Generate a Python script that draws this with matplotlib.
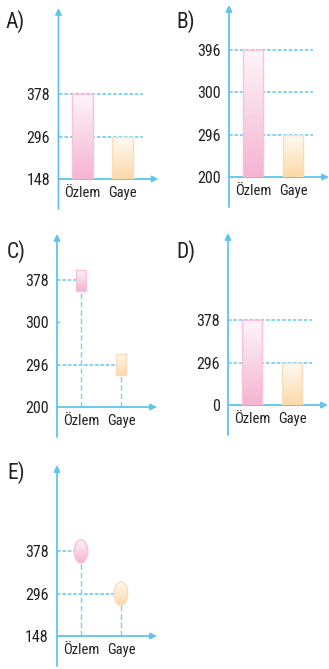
import matplotlib.pyplot as plt
import numpy as np
from matplotlib.patches import Rectangle, Ellipse
from matplotlib.colors import LinearSegmentedColormap

# donnees
names = ['Özlem', 'Gaye']
values = [378, 296]
values_B = [396, 296]
ticks_A = [148, 296, 378]
ticks_B = [200, 296, 300, 396]
ticks_C = [200, 296, 300, 378]
ticks_D = [0, 296, 378]
ticks_E = [148, 296, 378]

W, H = 329, 669
SLOT = 42.3
BLUE = '#5ec5ef'
DASH = '#7dd0f3'
FONT = ['Liberation Sans Narrow', 'Roboto Condensed', 'Liberation Sans', 'DejaVu Sans']
TXT = '#222222'
PINK = ('#fdf5f9', '#f5b4d1', '#f6c4da')
ORANGE = ('#fffbf5', '#fcd9a8', '#fadcb8')

plt.rcParams['font.family'] = FONT
fig = plt.figure(figsize=(W / 100, H / 100), dpi=100)


def panel(x0, base, top, ticks, letter, lx, ly):
    ax = fig.add_axes([x0 / W, 1 - base / H, 100 / W, (base - top) / H])
    ax.set_xlim(-0.6, 1.9)
    ax.set_ylim(0, (base - top) / SLOT)
    for s in ax.spines.values():
        s.set_visible(False)
    ax.set_yticks(range(len(ticks)))
    ax.set_yticklabels([str(t) for t in ticks], fontsize=11.5, color=TXT)
    ax.set_xticks([0, 1])
    ax.set_xticklabels(names, fontsize=10.5, color=TXT)
    ax.tick_params(length=0)
    ax.tick_params(axis='y', pad=6)
    ax.tick_params(axis='x', pad=5)
    arr = dict(arrowstyle='-|>', color=BLUE, lw=1.3, mutation_scale=9, shrinkA=0, shrinkB=0)
    ax.annotate('', xy=(1, 0), xytext=(0, 0), xycoords='axes fraction',
                textcoords='axes fraction', arrowprops=arr)
    ax.annotate('', xy=(0, 1), xytext=(0, -30 / (base - top)), xycoords='axes fraction',
                textcoords='axes fraction', arrowprops=arr, annotation_clip=False)
    fig.text(lx / W, 1 - ly / H, letter, fontsize=15.5, color=TXT, ha='left', va='top')
    return ax


def gradient(ax, patch, cols, box):
    ax.add_patch(patch)
    cmap = LinearSegmentedColormap.from_list('g', [cols[0], cols[1]])
    img = ax.imshow(np.linspace(0, 1, 100).reshape(-1, 1), cmap=cmap, extent=box,
                    aspect='auto', zorder=3, interpolation='bilinear')
    img.set_clip_path(patch)


def bars(ax, ticks, vals):
    lim = ax.get_ylim()
    for i in range(1, len(ticks)):
        ax.plot([-0.6, 1.5], [i, i], color=DASH, lw=1.3, ls=(0, (2, 1)), zorder=1)
    for i, v in enumerate(vals):
        h = ticks.index(v)
        cols = PINK if i == 0 else ORANGE
        r = Rectangle((i - 0.26, 0), 0.52, h, facecolor='none', edgecolor=cols[2], lw=1, zorder=4)
        gradient(ax, r, cols, [i - 0.26, i + 0.26, 0, h])
    ax.set_xlim(-0.6, 1.9)
    ax.set_ylim(lim)


def markers(ax, ticks, vals, shape):
    lim = ax.get_ylim()
    for i, v in enumerate(vals):
        y = ticks.index(v)
        cols = PINK if i == 0 else ORANGE
        if shape == 'square':
            w, h = 0.27, 0.5
            p = Rectangle((i - w / 2, y - h / 2), w, h, facecolor='none', edgecolor=cols[2], lw=1, zorder=4)
        else:
            w, h = 0.34, 0.55
            p = Ellipse((i, y), w, h, facecolor='none', edgecolor=cols[2], lw=1, zorder=4)
        ax.plot([-0.6, i - w / 2], [y, y], color=DASH, lw=1.3, ls=(0, (2, 1)), zorder=1)
        ax.plot([i, i], [0, y - h / 2], color=DASH, lw=1.0, ls=(0, (4, 2)), zorder=1)
        gradient(ax, p, cols, [i - w / 2, i + w / 2, y - h / 2, y + h / 2])
    ax.set_xlim(-0.6, 1.9)
    ax.set_ylim(lim)


axA = panel(58.5, 179, 8, ticks_A, 'A)', 6, 10)
bars(axA, ticks_A, values)

axB = panel(229, 177, 5, ticks_B, 'B)', 176, 10)
bars(axB, ticks_B, values_B)

axC = panel(57, 407, 234, ticks_C, 'C)', 7, 240)
markers(axC, ticks_C, values, 'square')
axC.plot([-0.6, -0.55], [2, 2], color=BLUE, lw=1)

axD = panel(228, 405, 233, ticks_D, 'D)', 176, 240)
bars(axD, ticks_D, values)

axE = panel(57, 636, 465, ticks_E, 'E)', 7, 461)
markers(axE, ticks_E, values, 'circle')

fig.savefig('out.png', dpi=100)
